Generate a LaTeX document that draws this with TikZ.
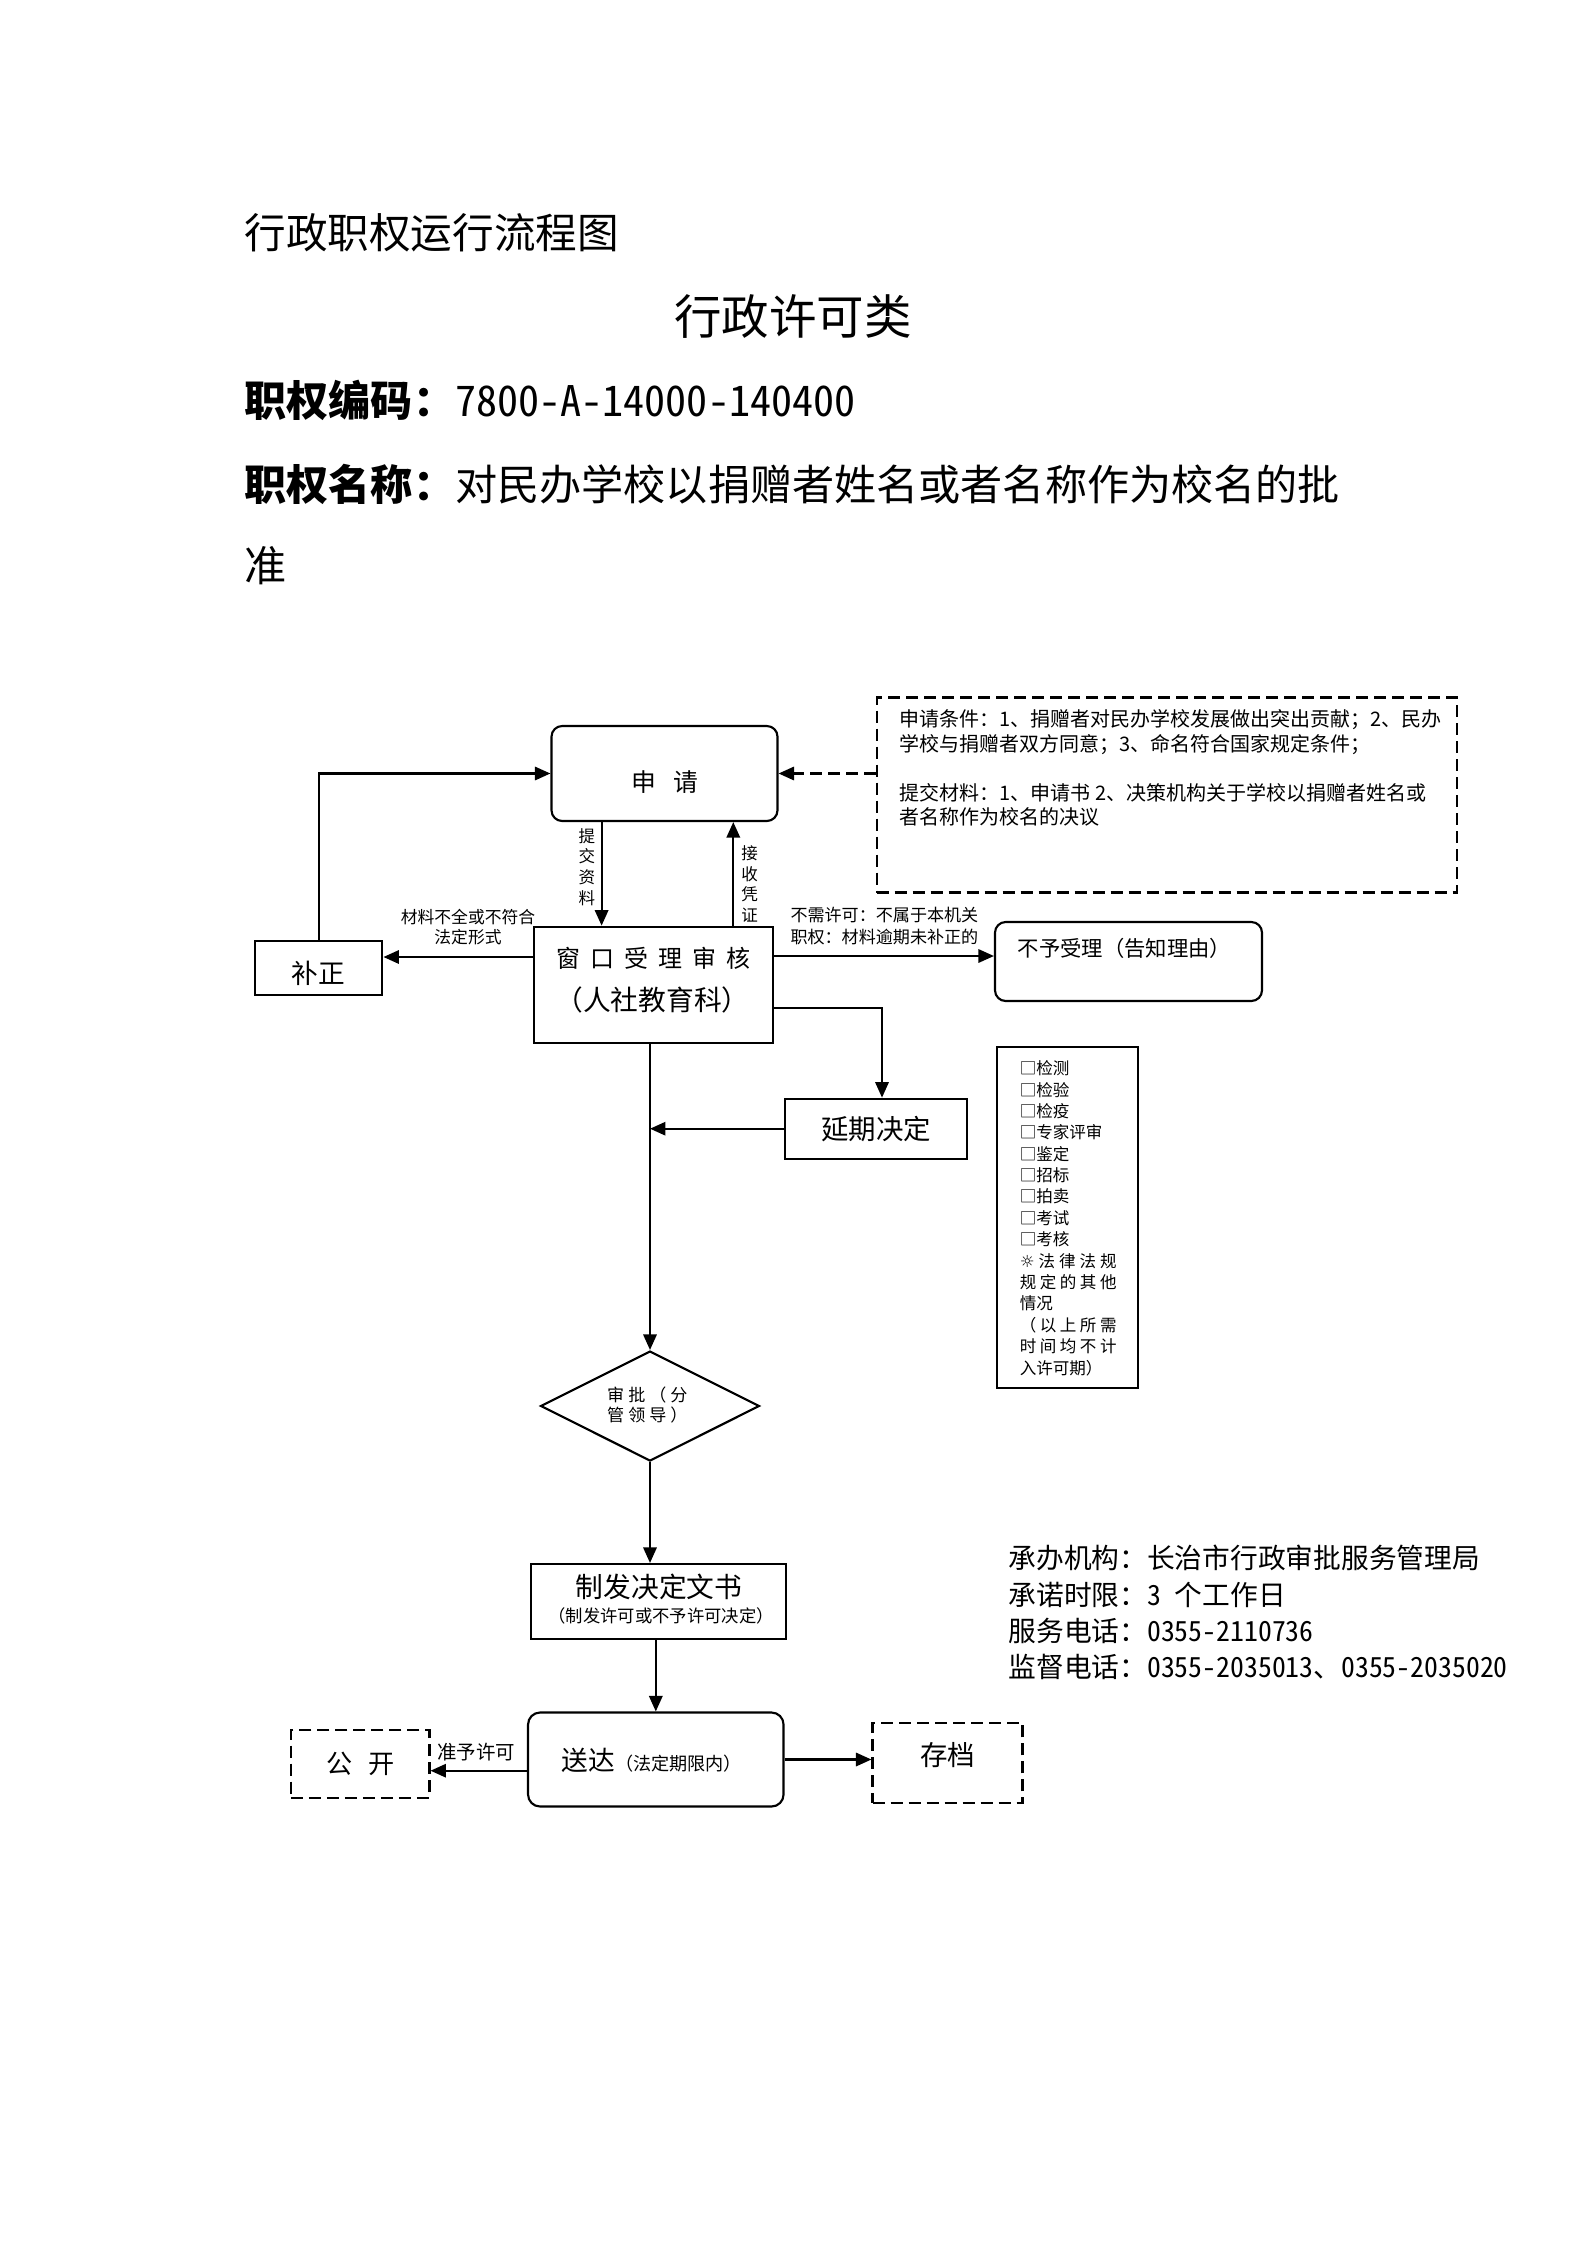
\documentclass[tikz,border=0pt]{standalone}
\usepackage{fontspec}
\setmainfont{Noto Sans CJK SC}
\newfontfamily\dejavu{DejaVu Sans}
\newfontfamily\hw[RawFeature=+hwid]{Noto Sans CJK SC}
\usetikzlibrary{shapes.geometric,arrows.meta}
\newlength\pxu \setlength\pxu{0.375pt}
\newcommand\fsz[2]{\fontsize{#1}{#2}\selectfont}
\newcommand\spr[1]{\makebox[96.7\pxu][l]{#1}}
\tikzset{
  box/.style={draw, line width=0.8pt, inner sep=0pt, rectangle},
  rbox/.style={box, rounded corners=4pt},
  dbox/.style={box, dash pattern=on 4.5pt off 2.25pt},
  arr/.style={line width=0.8pt, -{Triangle[length=5.8pt,width=5pt]}},
  darr/.style={arr, dash pattern=on 4.5pt off 2.25pt},
  lbl/.style={inner sep=0pt}
}
\begin{document}
\begin{tikzpicture}[x=0.375pt,y=-0.375pt]
\fill[white] (0,0) rectangle (1587,2245);
\useasboundingbox (0,0) rectangle (1587,2245);

% header
\node[lbl, anchor=west, font=\fsz{15.6pt}{18pt}] (h1) at (244,233) {行政职权运行流程图};
\node[lbl, font=\fsz{17.8pt}{20pt}] (h2) at (793,317) {行政许可类};
\node[lbl, anchor=west, font=\fsz{15.8pt}{18pt}] (h3) at (244,400) {\textbf{职权编码：}{\hw 7800-A-14000-140400}};
\node[lbl, anchor=west, font=\fsz{15.8pt}{18pt}] (h4) at (244,484) {\textbf{职权名称：}对民办学校以捐赠者姓名或者名称作为校名的批};
\node[lbl, anchor=west, font=\fsz{15.8pt}{18pt}] (h5) at (244,566) {准};

% boxes
\node[rbox, minimum width=226\pxu, minimum height=95\pxu] (sq) at (664.5,773.5) {};
\node[lbl, font=\fsz{9.3pt}{11pt}] (sqt) at (665,782) {申\hspace{17\pxu}请};

\node[dbox, minimum width=580\pxu, minimum height=195\pxu] (cond) at (1166.6,795) {};
\node[lbl, anchor=west, font=\fsz{7.5pt}{9pt}] (c1) at (899,720) {申请条件：1、捐赠者对民办学校发展做出突出贡献；2、民办};
\node[lbl, anchor=west, font=\fsz{7.5pt}{9pt}] (c2) at (899,745) {学校与捐赠者双方同意；3、命名符合国家规定条件；};
\node[lbl, anchor=west, font=\fsz{7.5pt}{9pt}] (c3) at (899,793) {提交材料：1、申请书 2、决策机构关于学校以捐赠者姓名或};
\node[lbl, anchor=west, font=\fsz{7.5pt}{9pt}] (c4) at (899,817) {者名称作为校名的决议};

\node[box, minimum width=127.4\pxu, minimum height=54.4\pxu] (bz) at (318.7,968.2) {};
\node[lbl, font=\fsz{10pt}{12pt}] (bzt) at (318,973) {补正};

\node[box, minimum width=239.4\pxu, minimum height=116\pxu] (ck) at (653.7,984.7) {};
\node[lbl, font=\fsz{9pt}{11pt}] (ckt1) at (653.5,958) {窗\hspace{10\pxu}口\hspace{10\pxu}受\hspace{10\pxu}理\hspace{10\pxu}审\hspace{10\pxu}核};
\node[lbl, font=\fsz{10.4pt}{12pt}] (ckt2) at (652.5,1000) {（人社教育科）};

\node[rbox, minimum width=267\pxu, minimum height=79\pxu] (byl) at (1128.5,961.5) {};
\node[lbl, font=\fsz{8pt}{10pt}] (bylt) at (1124.5,948) {不予受理（告知理由）};

\node[box, minimum width=182\pxu, minimum height=60\pxu, font=\fsz{10.3pt}{12pt}] (yq) at (876,1128.7) {延期决定};

\node[box, minimum width=140.7\pxu, minimum height=341.6\pxu] (chk) at (1067.7,1217.5) {};
\foreach \t [count=\i from 0] in {{□检测},{□检验},{□检疫},{□专家评审},{□鉴定},{□招标},{□拍卖},{□考试},{□考核},
  {\spr{{\dejavu ☼}\hfill 法\hfill 律\hfill 法\hfill 规}},
  {\spr{规\hfill 定\hfill 的\hfill 其\hfill 他}},
  {情况},
  {\spr{（\hfill 以\hfill 上\hfill 所\hfill 需}},
  {\spr{时\hfill 间\hfill 均\hfill 不\hfill 计}},
  {入许可期）}}
  \node[lbl, anchor=west, font=\fsz{6.2pt}{7pt}] (it\i) at (1019.3,1068.3+21.39*\i) {\t};

\node[draw, diamond, line width=0.8pt, inner sep=0pt, minimum width=219\pxu, minimum height=110\pxu] (sp) at (650,1406) {};
\node[lbl, align=left, anchor=west, font=\fsz{6.4pt}{7.5pt}] (spt) at (606.7,1405) {审\hspace{4\pxu}批\hspace{4\pxu}（\hspace{4\pxu}分\\管\hspace{4\pxu}领\hspace{4\pxu}导\hspace{4\pxu}）};

\node[box, minimum width=255\pxu, minimum height=75\pxu] (zf) at (658.9,1601.5) {};
\node[lbl, font=\fsz{10.4pt}{12pt}] (zft1) at (659,1587) {制发决定文书};
\node[lbl, font=\fsz{6.5pt}{8pt}] (zft2) at (661,1616) {（制发许可或不予许可决定）};

\node[box, rounded corners=4.5pt, minimum width=255.5\pxu, minimum height=94\pxu] (sd) at (655.8,1759.5) {};
\node[lbl, font=\fsz{10pt}{12pt}] (sdt) at (651.8,1760) {送达{\fsz{6.8pt}{8pt}（法定期限内）}};

\node[dbox, minimum width=138.5\pxu, minimum height=67.5\pxu, font=\fsz{9.8pt}{11pt}] (gk) at (360.2,1763.8) {公\hspace{16\pxu}开};
\node[dbox, minimum width=150\pxu, minimum height=80\pxu] (cd) at (947.5,1763.4) {};
\node[lbl, font=\fsz{10.3pt}{12pt}] (cdt) at (947.5,1755) {存档};

% info
\node[lbl, anchor=west, font=\fsz{10.4pt}{12pt}] (i1) at (1008,1557.5) {承办机构：长治市行政审批服务管理局};
\node[lbl, anchor=west, font=\fsz{10.4pt}{12pt}] (i2) at (1008,1594.5) {承诺时限：{\hw 3 }个工作日};
\node[lbl, anchor=west, font=\fsz{10.4pt}{12pt}] (i3) at (1008,1630.5) {服务电话：{\hw 0355-2110736}};
\node[lbl, anchor=west, font=\fsz{10.4pt}{12pt}] (i4) at (1008,1667) {监督电话：{\hw 0355-2035013}、{\hw 0355-2035020}};

% labels
\node[lbl, align=center, font=\fsz{6.3pt}{7.5pt}] (lab1) at (468,926.7) {材料不全或不符合\\法定形式};
\node[lbl, align=left, anchor=west, font=\fsz{6.4pt}{8.1pt}] (lab2) at (790,926) {不需许可：不属于本机关\\职权：材料逾期未补正的};
\node[lbl, align=center, font=\fsz{6.2pt}{7.76pt}] (lab3) at (587,867) {提\\交\\资\\料};
\node[lbl, align=center, font=\fsz{6.2pt}{7.76pt}] (lab4) at (749.6,884) {接\\收\\凭\\证};
\node[lbl, font=\fsz{7.3pt}{9pt}] (zy) at (476,1752) {准予许可};

% helper coordinates
\coordinate (xa) at (601.6,0);
\coordinate (xb) at (733.3,0);
\coordinate (xe) at (650,0);
\coordinate (xd) at (882,0);
\coordinate (yl) at (0,957);
\coordinate (yr) at (0,956);
\coordinate (yc) at (0,1008);
\coordinate (yg) at (0,1770.7);

% connectors
\draw[arr] (sq.south -| xa) -- (ck.north -| xa);
\draw[arr] (ck.north -| xb) -- (sq.south -| xb);
\draw[darr] (sq.east -| cond.west) -- (sq.east);
\draw[arr] (bz.north) |- (sq.west);
\draw[arr] (ck.west |- yl) -- (bz.east |- yl);
\draw[arr] (ck.east |- yr) -- (byl.west |- yr);
\draw[arr] (ck.east |- yc) -| (yq.north -| xd);
\draw[arr] (yq.west) -- (yq.west -| xe);
\draw[arr] (ck.south -| xe) -- (sp.north);
\draw[arr] (sp.south) -- (zf.north -| sp.south);
\draw[arr] (zf.south -| sd.north) -- (sd.north);
\draw[arr] (sd.west |- yg) -- (gk.east |- yg);
\draw[arr] (sd.east) -- (cd.west |- sd.east);
\end{tikzpicture}
\end{document}
